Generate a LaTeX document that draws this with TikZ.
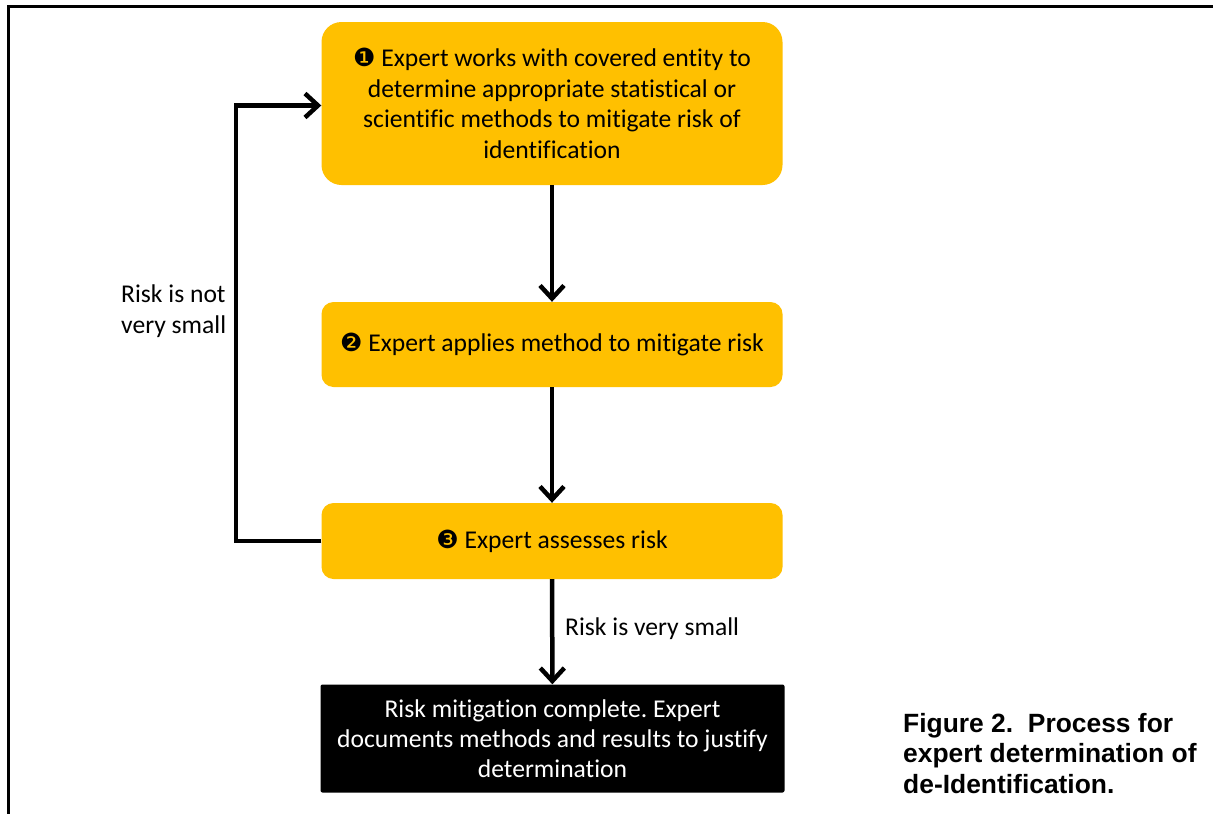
\documentclass[tikz,border=0pt]{standalone}
\usepackage{fontspec}
\setmainfont{Carlito}[Ligatures=NoCommon]
\newfontfamily\capfont{Liberation Sans}
\newfontfamily\symfont{DejaVu Sans}
\usetikzlibrary{arrows.meta}
\definecolor{gold}{HTML}{FFC000}
\frenchspacing
\newcommand{\numdot}[1]{{\symfont\fontsize{25}{25}\selectfont #1}}
\tikzset{
  stepbox/.style={fill=gold, rounded corners=#1, minimum width=461pt, inner sep=0pt,
    align=center, text=black, font=\fontsize{25.6}{30.7}\selectfont},
  stepbox/.default=12pt,
  endbox/.style={fill=black, rounded corners=2pt, minimum width=464pt, minimum height=108pt,
    inner sep=0pt, align=center, text=white, font=\fontsize{25.6}{30}\selectfont},
  arr/.style={line width=4.5pt, -{Straight Barb[length=13pt, width=24pt, line width=4.5pt]}},
  lbl/.style={inner sep=0pt, font=\fontsize{25.6}{31}\selectfont, align=left},
  frame/.style={line width=3.5pt}
}
\begin{document}
\begin{tikzpicture}[x=1pt,y=-1pt]
\useasboundingbox (0,0) rectangle (1213,814);
\fill[white] (0,0) rectangle (1213,814);
% frame
\coordinate (ftr) at (1213,6.5);
\coordinate (ftl) at (8.5,6.5);
\coordinate (fbl) at (8.5,814);
\draw[frame] (ftr) -- (ftl) -- (fbl);
% boxes
\node[stepbox=20pt, minimum height=163pt] (b1) at (552,103.5)
  {\numdot{❶} Expert works with covered entity to\\determine appropriate statistical or\\scientific methods to mitigate risk of\\identification};
\node[stepbox, minimum height=85pt] (b2) at (552,344.5)
  {\numdot{❷} Expert applies method to mitigate risk};
\node[stepbox, minimum height=76pt] (b3) at (552,541)
  {\numdot{❸} Expert assesses risk};
\node[endbox] (b4) at (552.5,738.5)
  {Risk mitigation complete. Expert\\documents methods and results to justify\\determination};
% connectors
\draw[arr] (b1) -- (b2);
\draw[arr] (b2) -- (b3);
\draw[arr] (b3) -- (b4);
\coordinate (fb) at (236,0);
\draw[arr] (b3.west) -- (b3.west -| fb) |- ([yshift=-2pt]b1.west);
% labels
\node[lbl, anchor=base west] (l1) at (121,333) {Risk is not\\very small};
\node[lbl, anchor=base west] (l2) at (565,635) {Risk is very small};
% caption
\node[inner sep=0pt, anchor=base west, align=left, font=\capfont\bfseries\fontsize{26.4}{30.5}\selectfont] (cap) at (903,793)
  {Figure 2.\ \ Process for\\expert determination of\\de-Identification.};
\end{tikzpicture}
\end{document}
